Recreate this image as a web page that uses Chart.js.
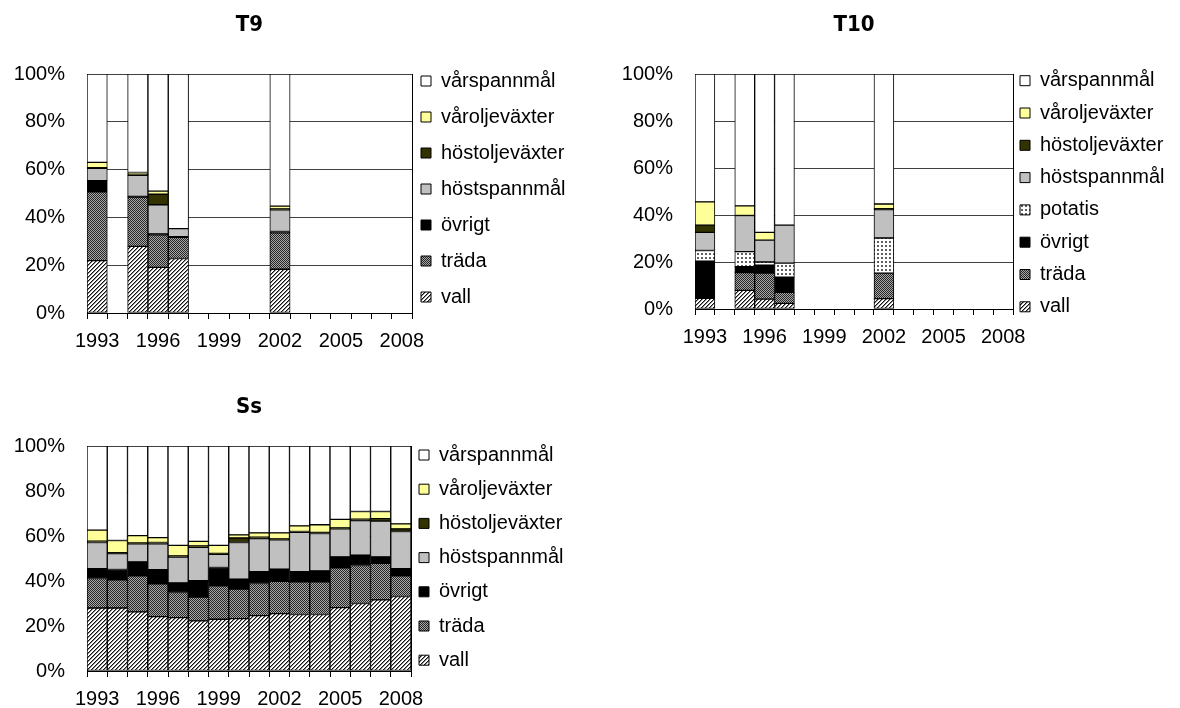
<!DOCTYPE html>
<html><head><meta charset="utf-8">
<script src="https://cdn.jsdelivr.net/npm/chart.js@4.4.1/dist/chart.umd.min.js"></script>
<style>
html,body{margin:0;padding:0;background:#fff;width:1180px;height:708px;overflow:hidden;position:relative}
canvas{position:absolute}
</style></head><body>
<canvas id="c9" width="572" height="360" style="left:0px;top:0px"></canvas>
<canvas id="c10" width="580" height="360" style="left:600px;top:0px"></canvas>
<canvas id="cs" width="572" height="328" style="left:0px;top:380px"></canvas>
<script>
// ---------- data ----------
const years = ['1993','1994','1995','1996','1997','1998','1999','2000','2001','2002','2003','2004','2005','2006','2007','2008'];
const tickYears = ['1993','1996','1999','2002','2005','2008'];
const titles = ['T9','T10','Ss'];

// T9 (%)
const t9Vall      = [21.9,null,27.9,19.1,22.8,null,null,null,null,18.3,null,null,null,null,null,null];
const t9Trada     = [28.8,null,20.6,13.6, 8.9,null,null,null,null,15.2,null,null,null,null,null,null];
const t9Ovrigt    = [ 4.7,null, 0.3, 0.4, 0.2,null,null,null,null, 0.6,null,null,null,null,null,null];
const t9HostSp    = [ 5.1,null, 8.8,12.2, 3.4,null,null,null,null, 9.1,null,null,null,null,null,null];
const t9HostOlje  = [ 0.3,null, 0.6, 4.4, 0.0,null,null,null,null, 0.4,null,null,null,null,null,null];
const t9VarOlje   = [ 2.2,null, 0.6, 1.3, 0.0,null,null,null,null, 1.1,null,null,null,null,null,null];
const t9VarSp     = [37.0,null,41.2,49.0,64.7,null,null,null,null,55.3,null,null,null,null,null,null];

// T10 (%)
const t10Vall     = [ 4.5,null, 7.9, 4.2, 2.4,null,null,null,null, 4.4,null,null,null,null,null,null];
const t10Trada    = [ 0.0,null, 7.6,11.1, 4.7,null,null,null,null,10.9,null,null,null,null,null,null];
const t10Ovrigt   = [15.9,null, 2.5, 3.4, 6.4,null,null,null,null, 0.0,null,null,null,null,null,null];
const t10Potatis  = [ 4.5,null, 6.4, 1.3, 6.0,null,null,null,null,14.9,null,null,null,null,null,null];
const t10HostSp   = [ 7.7,null,15.4, 9.3,16.2,null,null,null,null,12.1,null,null,null,null,null,null];
const t10HostOlje = [ 3.1,null, 0.0, 0.0, 0.0,null,null,null,null, 0.4,null,null,null,null,null,null];
const t10VarOlje  = [ 9.9,null, 4.1, 3.3, 0.0,null,null,null,null, 2.0,null,null,null,null,null,null];
const t10VarSp    = [54.4,null,56.1,67.4,64.3,null,null,null,null,55.3,null,null,null,null,null,null];

// Ss (%)
const ssVall      = [28.0,28.0,26.3,24.2,23.7,22.3,23.0,23.3,24.6,25.5,25.1,25.1,28.2,30.0,31.6,33.1];
const ssTrada     = [13.1,12.5,16.0,14.5,11.2,10.6,14.8,13.1,14.3,14.4,14.5,14.5,17.6,16.9,16.2, 9.2];
const ssOvrigt    = [ 4.4, 4.6, 6.2, 6.3, 4.3, 7.3, 8.2, 4.4, 5.2, 5.4, 4.6, 4.9, 4.9, 4.6, 2.9, 3.2];
const ssHostSp    = [11.6, 7.1, 8.0,11.5,11.4,14.8, 5.9,16.3,14.7,13.0,17.4,16.6,12.5,15.3,15.9,16.5];
const ssHostOlje  = [ 0.6, 0.4, 0.4, 0.6, 0.6, 0.6, 0.4, 2.0, 0.7, 0.4, 0.4, 0.5, 0.4, 0.7, 1.1, 1.2];
const ssVarOlje   = [ 4.9, 5.4, 3.3, 2.2, 4.6, 2.0, 3.5, 1.4, 1.9, 2.7, 2.5, 3.4, 3.8, 3.4, 3.2, 2.2];
const ssVarSp     = [37.4,42.0,39.8,40.7,44.2,42.4,44.2,39.5,38.6,38.6,35.5,35.0,32.6,29.1,29.1,34.6];

// ---------- styles ----------
function makePattern(size, paint){
  const c = document.createElement('canvas'); c.width = size; c.height = size;
  const x = c.getContext('2d'); paint(x, size);
  return x.createPattern(c, 'repeat');
}
const fillVall = makePattern(4, (x, s) => {
  x.fillStyle = '#fff'; x.fillRect(0,0,s,s);
  for (let i=0;i<s;i++) for (let j=0;j<s;j++){
    const k = (i+j)%4;
    if (k===0){ x.fillStyle='#111'; x.fillRect(i,j,1,1); }
    else if (k===1){ x.fillStyle='#8a8a8a'; x.fillRect(i,j,1,1); }
  }
});
const fillTrada = makePattern(2, (x) => {
  x.fillStyle = '#a8a8a8'; x.fillRect(0,0,2,2);
  x.fillStyle = '#262626'; x.fillRect(0,0,1,1); x.fillRect(1,1,1,1);
});
const fillPotatis = makePattern(4, (x) => {
  x.fillStyle = '#fff'; x.fillRect(0,0,4,4);
  x.fillStyle = '#606060'; x.fillRect(1,1,2,2);
});
const fillOvrigt = '#000000';
const fillHostSp = '#c0c0c0';
const fillHostOlje = '#333300';
const fillVarOlje = '#ffff99';
const fillVarSp = '#ffffff';

const FONT = "'Liberation Sans', Arial, sans-serif";
const TITLE_FONT = "'Liberation Sans Narrow', 'DejaVu Sans Condensed', 'Liberation Sans', sans-serif";
Chart.defaults.color = '#000';
Chart.defaults.font.family = FONT;

function ds(label, data, fill){
  return { label, data, backgroundColor: fill, borderColor: '#000', borderWidth: 1,
           borderSkipped: false, barPercentage: 1, categoryPercentage: 1 };
}

const legendShift = {
  id: 'legendShift',
  afterLayout(chart, args, opts){
    const lg = chart.legend;
    if (!lg) return;
    lg.left = opts.boxX - opts.pad;
    lg.top = opts.firstCenter - opts.fs/2 - opts.pad;
  }
};

function makeChart(id, title, datasets, g){
  const fs = 20;
  return new Chart(document.getElementById(id), {
    type: 'bar',
    data: { labels: years, datasets },
    plugins: [legendShift],
    options: {
      responsive: false, animation: false, devicePixelRatio: 1,
      layout: { padding: 0 },
      plugins: {
        title: { display: true, text: title, fullSize: false, color: '#000',
                 font: { family: TITLE_FONT, weight: 'bold', size: 22, lineHeight: 1.2 },
                 padding: { top: g.tTop, bottom: g.tBottom } },
        legend: { display: true, position: 'right', align: 'start', reverse: true,
                  maxWidth: g.legendW,
                  labels: { boxWidth: 10, boxHeight: 10, padding: g.pad, color: '#000',
                            font: { family: FONT, size: fs } } },
        tooltip: { enabled: false },
        legendShift: { boxX: g.boxX, firstCenter: g.firstCenter, pad: g.pad, fs: fs }
      },
      scales: {
        x: { stacked: true, offset: true,
             grid: { display: true, offset: true, drawOnChartArea: false, drawTicks: true, tickLength: 6, color: '#000' },
             border: { display: true, color: '#000', width: 1 },
             ticks: { autoSkip: false, maxRotation: 0, minRotation: 0, padding: 10, color: '#000',
                      font: { family: FONT, size: fs },
                      callback: function(v, i){ const l = years[i]; return tickYears.includes(l) ? l : ''; } },
             afterFit: s => { s.height = g.xH; } },
        y: { stacked: true, min: 0, max: 100,
             grid: { display: true, drawTicks: false, color: '#404040', lineWidth: 1 },
             border: { display: true, color: '#000', width: 1 },
             ticks: { stepSize: 20, padding: 22, color: '#000', font: { family: FONT, size: fs },
                      callback: v => v + '%' },
             afterFit: s => { s.width = g.yW; } },
        yR: { axis: 'y', position: 'right', display: true,
              grid: { display: false, drawTicks: false },
              ticks: { display: false },
              border: { display: true, color: '#000', width: 1 },
              afterFit: s => { s.width = 0; } }
      }
    }
  });
}

makeChart('c9', titles[0], [
  ds('vall', t9Vall, fillVall),
  ds('träda', t9Trada, fillTrada),
  ds('övrigt', t9Ovrigt, fillOvrigt),
  ds('höstspannmål', t9HostSp, fillHostSp),
  ds('höstoljeväxter', t9HostOlje, fillHostOlje),
  ds('våroljeväxter', t9VarOlje, fillVarOlje),
  ds('vårspannmål', t9VarSp, fillVarSp)
], { tTop: 11.8, tBottom: 35.8, legendW: 160, pad: 16, boxX: 421, firstCenter: 81, xH: 47, yW: 87 });

makeChart('c10', titles[1], [
  ds('vall', t10Vall, fillVall),
  ds('träda', t10Trada, fillTrada),
  ds('övrigt', t10Ovrigt, fillOvrigt),
  ds('potatis', t10Potatis, fillPotatis),
  ds('höstspannmål', t10HostSp, fillHostSp),
  ds('höstoljeväxter', t10HostOlje, fillHostOlje),
  ds('våroljeväxter', t10VarOlje, fillVarOlje),
  ds('vårspannmål', t10VarSp, fillVarSp)
], { tTop: 11.8, tBottom: 35.8, legendW: 170, pad: 12.3, boxX: 420, firstCenter: 80.7, xH: 51, yW: 95 });

makeChart('cs', titles[2], [
  ds('vall', ssVall, fillVall),
  ds('träda', ssTrada, fillTrada),
  ds('övrigt', ssOvrigt, fillOvrigt),
  ds('höstspannmål', ssHostSp, fillHostSp),
  ds('höstoljeväxter', ssHostOlje, fillHostOlje),
  ds('våroljeväxter', ssVarOlje, fillVarOlje),
  ds('vårspannmål', ssVarSp, fillVarSp)
], { tTop: 13.8, tBottom: 25.8, legendW: 161, pad: 14.2, boxX: 419, firstCenter: 75, xH: 37, yW: 87 });
</script>
</body></html>
